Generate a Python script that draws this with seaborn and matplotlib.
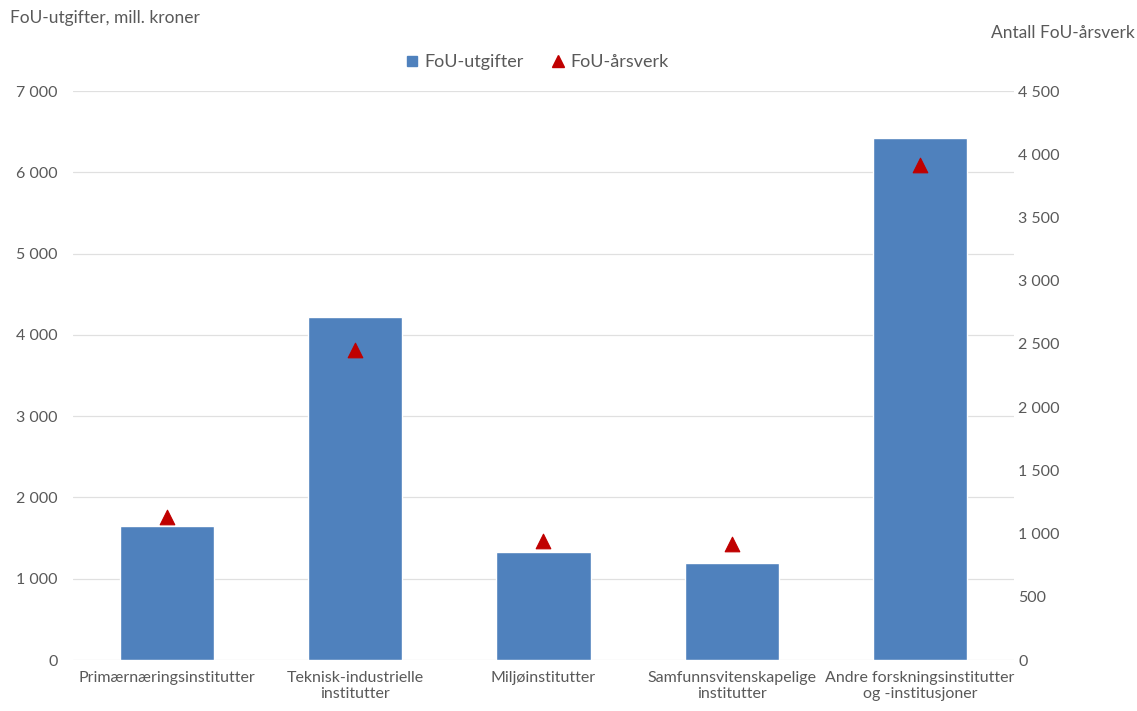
import numpy as np
import pandas as pd
import matplotlib
matplotlib.use("Agg")
import matplotlib.pyplot as plt
import seaborn as sns
from matplotlib.ticker import FuncFormatter, MultipleLocator
from matplotlib.lines import Line2D

categories = ["Primærnæringsinstitutter", "Teknisk-industrielle\ninstitutter",
              "Miljøinstitutter", "Samfunnsvitenskapelige\ninstitutter",
              "Andre forskningsinstitutter\nog -institusjoner"]
utgifter = [1650, 4220, 1330, 1195, 6420]   # mill. kroner
aarsverk = [1135, 2455, 940, 915, 3915]     # FoU-årsverk

df = pd.DataFrame({"kategori": categories, "utgifter": utgifter, "aarsverk": aarsverk})

sns.set_style("white")
plt.rcParams['font.family'] = ['Lato', 'DejaVu Sans']
grey = "#595959"
blue = "#4f81bd"
red = "#c00000"

fig = plt.figure(figsize=(11.37, 7.11), dpi=100)
ax = fig.add_axes([0.0642, 0.0717, 0.8276, 0.8003])

sns.barplot(data=df, x="kategori", y="utgifter", color=blue, width=0.5,
            saturation=1, ax=ax, zorder=2)
ax.set_ylim(0, 7000)
ax.set_xlim(-0.5, len(categories) - 0.5)
ax.yaxis.set_major_locator(MultipleLocator(1000))
fmt = FuncFormatter(lambda v, p: f"{int(v):,}".replace(",", " "))
ax.yaxis.set_major_formatter(fmt)
ax.grid(axis="y", color="#e0e0e0", linewidth=0.9, zorder=0)
ax.set_axisbelow(True)
ax.set_xlabel("")
ax.set_ylabel("")
for s in ax.spines.values():
    s.set_visible(False)
ax.tick_params(axis="both", length=0, colors=grey, labelsize=11.5)
ax.tick_params(axis="y", pad=11)
ax.tick_params(axis="x", pad=8)

ax2 = ax.twinx()
sns.scatterplot(data=df, x="kategori", y="aarsverk", marker="^", color=red,
                s=110, edgecolor=red, ax=ax2, zorder=3)
ax2.set_ylim(0, 4500)
ax2.yaxis.set_major_locator(MultipleLocator(500))
ax2.yaxis.set_major_formatter(fmt)
ax2.set_ylabel("")
for s in ax2.spines.values():
    s.set_visible(False)
ax2.tick_params(axis="y", length=0, colors=grey, labelsize=11.5, pad=3)

fig.text(10 / 1137, 1 - 18 / 711, "FoU-utgifter, mill. kroner", color=grey,
         fontsize=12.5, ha="left", va="center")
fig.text(1135 / 1137, 1 - 33 / 711, "Antall FoU-årsverk", color=grey,
         fontsize=12.5, ha="right", va="center")

handles = [Line2D([], [], marker="s", color=blue, linestyle="", markersize=7),
           Line2D([], [], marker="^", color=red, linestyle="", markersize=8)]
leg = fig.legend(handles, ["FoU-utgifter", "FoU-årsverk"], loc="center",
                 bbox_to_anchor=(534 / 1137, 1 - 62 / 711), ncol=2, frameon=False,
                 fontsize=13, handletextpad=0.0, columnspacing=1.2,
                 handlelength=1.4)
for t in leg.get_texts():
    t.set_color(grey)

fig.savefig("out.png", dpi=100)
